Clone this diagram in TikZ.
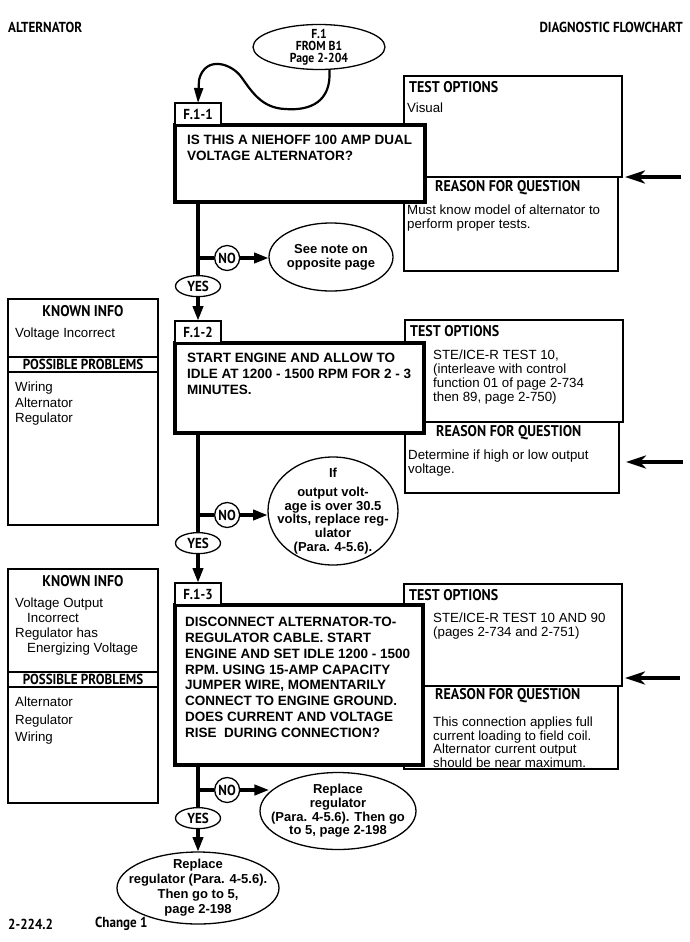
\documentclass[tikz,border=0pt]{standalone}
\usepackage{fontspec}
\setmainfont{Liberation Sans}
\newfontfamily\hdfont[FakeStretch=0.9]{PT Sans}
\usetikzlibrary{arrows.meta,positioning,shapes.geometric}
\tikzset{
  qbox/.style={draw, line width=4pt, fill=white, inner sep=0pt, outer sep=0pt, anchor=north west},
  optbox/.style={draw, line width=2.4pt, fill=white, inner sep=0pt, outer sep=0pt, anchor=north west},
  rsnbox/.style={draw, line width=1.3pt, fill=white, inner sep=0pt, outer sep=0pt, anchor=north west},
  infobox/.style={draw, line width=1.3pt, inner sep=0pt, outer sep=0pt, anchor=north west,
                  minimum width=150pt},
  band/.style={draw, line width=1.3pt, minimum width=150pt, minimum height=15pt, inner sep=0pt,
               outer sep=0pt, font=\hdfont\bfseries\fontsize{14.5}{14}\selectfont},
  tab/.style={draw, line width=1.3pt, fill=white, minimum width=46pt, minimum height=22pt,
              inner sep=0pt, outer sep=0pt, font=\hdfont\bfseries\fontsize{14.5}{14}\selectfont},
  hd/.style={inner sep=0pt, font=\hdfont\bfseries\fontsize{15.5}{15}\selectfont},
  ttlfont/.style={inner sep=0pt, font=\hdfont\bfseries\fontsize{14.5}{14}\selectfont},
  body/.style={anchor=north west, align=left, inner sep=0pt, font=\fontsize{13.3}{14}\selectfont},
  qtext/.style={anchor=north west, align=left, inner sep=0pt,
                font=\bfseries\fontsize{13.5}{15.8}\selectfont},
  oval/.style={ellipse, draw, line width=1.3pt, fill=white, inner sep=0pt, outer sep=0pt},
  otext/.style={align=center, inner sep=0pt, font=\bfseries\fontsize{13}{13.7}\selectfont},
  stext/.style={align=center, inner sep=0pt, font=\hdfont\bfseries\fontsize{13}{12}\selectfont},
  yesnode/.style={ellipse, draw, line width=1.3pt, fill=white, minimum width=45pt,
                  minimum height=21pt, inner sep=0pt, font=\hdfont\bfseries\fontsize{14.5}{14}\selectfont},
  nonode/.style={circle, draw, line width=1.3pt, fill=white, minimum size=25pt, inner sep=0pt,
                 font=\hdfont\bfseries\fontsize{14.5}{14}\selectfont},
  flow/.style={line width=4pt, -{Triangle[length=15pt,width=10pt]}},
  stem/.style={line width=4pt},
  loopline/.style={line width=2.2pt, -{Triangle[length=15pt,width=9pt]}},
  side/.style={line width=4.5pt, shorten >=3pt, -{Stealth[length=20pt,width=13pt,inset=6pt]}},
}
\begin{document}
\begin{tikzpicture}[x=1pt, y=-1pt]
  \useasboundingbox (0,0) rectangle (689,942);
  \node[ttlfont, anchor=west] (ttl) at (8,27) {ALTERNATOR};
  \node[ttlfont, anchor=east] (ttr) at (683,27) {DIAGNOSTIC FLOWCHART};
  \node[oval, minimum width=132pt, minimum height=45pt,
        label={[stext]center:{F.1\\FROM B1\\Page 2-204}}] (start) at (319,47) {};

  % F.1-1
  \node[rsnbox, minimum width=214pt, minimum height=94pt] (rsn1) at (404,177) {};
  \node[optbox, minimum width=218pt, minimum height=101pt] (opt1) at (404,76) {};
  \node[qbox, minimum width=250pt, minimum height=77pt] (q1) at (175,125) {};
  \node[tab, above right=0pt of q1.north west] (tab1) {F.1-1};
  \node[hd, anchor=west] (to1) at ([shift={(5,11)}]opt1.north west) {TEST OPTIONS};
  \node[body] (to1t) at ([shift={(3,27)}]opt1.north west) {Visual};
  \node[hd, anchor=west] (rq1) at ([shift={(31,11)}]rsn1.north west) {REASON FOR QUESTION};
  \node[body] (rq1t) at ([shift={(3,28)}]rsn1.north west) {Must know model of alternator to\\perform proper tests.};
  \node[qtext] (q1t) at ([shift={(12,10)}]q1.north west) {IS THIS A NIEHOFF 100 AMP DUAL\\VOLTAGE ALTERNATOR?};
  \coordinate (j1) at (198,258);
  \node[nonode, right=16pt of j1] (no1) {NO};
  \node[oval, minimum width=124pt, minimum height=68pt,
        label={[otext]center:{See note on\\opposite page}}] (note1) at (331,257) {};

  % F.1-2
  \node[infobox, minimum height=226pt] (info1) at (8,299) {};
  \node[hd, below=6pt of info1.north] (ki1) {KNOWN INFO};
  \node[body] (ki1t) at ([shift={(7,29)}]info1.north west) {Voltage Incorrect};
  \node[band] (pp1) at (83,364.5) {POSSIBLE PROBLEMS};
  \node[body, font=\fontsize{13.3}{15.5}\selectfont] (pp1t) at ([shift={(7,83)}]info1.north west) {Wiring\\Alternator\\Regulator};
  \node[rsnbox, minimum width=214pt, minimum height=71pt] (rsn2) at (405,422) {};
  \node[optbox, minimum width=218pt, minimum height=102pt] (opt2) at (405,320) {};
  \node[qbox, minimum width=249pt, minimum height=90pt] (q2) at (175,343) {};
  \node[tab, above right=0pt of q2.north west] (tab2) {F.1-2};
  \node[hd, anchor=west] (to2) at ([shift={(5,11)}]opt2.north west) {TEST OPTIONS};
  \node[body] (to2t) at ([shift={(28,30)}]opt2.north west) {STE/ICE-R TEST 10,\\(interleave with control\\function 01 of page 2-734\\then 89, page 2-750)};
  \node[hd, anchor=west] (rq2) at ([shift={(31,11)}]rsn2.north west) {REASON FOR QUESTION};
  \node[body] (rq2t) at ([shift={(3,28)}]rsn2.north west) {Determine if high or low output\\voltage.};
  \node[qtext] (q2t) at ([shift={(12,10)}]q2.north west) {START ENGINE AND ALLOW TO\\IDLE AT 1200 - 1500 RPM FOR 2 - 3\\MINUTES.};
  \coordinate (j2) at (198,515);
  \node[nonode, right=16pt of j2] (no2) {NO};
  \node[oval, minimum width=130pt, minimum height=108pt,
        label={[otext]center:{If\\[5pt]output volt-\\age is over 30.5\\volts, replace reg-\\ulator\\(Para. 4-5.6).}}] (note2) at (333,511) {};

  % F.1-3
  \node[infobox, minimum height=234pt] (info2) at (8,569) {};
  \node[hd, below=6pt of info2.north] (ki2) {KNOWN INFO};
  \node[body, font=\fontsize{13.3}{15}\selectfont] (ki2t) at ([shift={(7,29)}]info2.north west) {Voltage Output\\\hspace*{12pt}Incorrect\\Regulator has\\\hspace*{12pt}Energizing Voltage};
  \node[band] (pp2) at (83,679.5) {POSSIBLE PROBLEMS};
  \node[body, font=\fontsize{13.3}{17.5}\selectfont] (pp2t) at ([shift={(7,128)}]info2.north west) {Alternator\\Regulator\\Wiring};
  \node[rsnbox, minimum width=214pt, minimum height=83pt] (rsn3) at (404,686) {};
  \node[optbox, minimum width=218pt, minimum height=102pt] (opt3) at (404,584) {};
  \node[qbox, minimum width=248pt, minimum height=160pt] (q3) at (175,605) {};
  \node[tab, above right=0pt of q3.north west] (tab3) {F.1-3};
  \node[hd, anchor=west] (to3) at ([shift={(5,11)}]opt3.north west) {TEST OPTIONS};
  \node[body] (to3t) at ([shift={(29,29)}]opt3.north west) {STE/ICE-R TEST 10 AND 90\\(pages 2-734 and 2-751)};
  \node[hd, anchor=west] (rq3) at ([shift={(31,10)}]rsn3.north west) {REASON FOR QUESTION};
  \node[body, font=\fontsize{13.3}{13.5}\selectfont] (rq3t) at ([shift={(29,31)}]rsn3.north west) {This connection applies full\\current loading to field coil.\\Alternator current output\\should be near maximum.};
  \node[qtext] (q3t) at ([shift={(10,12)}]q3.north west) {DISCONNECT ALTERNATOR-TO-\\REGULATOR CABLE. START\\ENGINE AND SET IDLE 1200 - 1500\\RPM. USING 15-AMP CAPACITY\\JUMPER WIRE, MOMENTARILY\\CONNECT TO ENGINE GROUND.\\DOES CURRENT AND VOLTAGE\\RISE\ \ DURING CONNECTION?};
  \coordinate (j3) at (198,790);
  \node[nonode, right=16pt of j3] (no3) {NO};
  \node[oval, minimum width=156pt, minimum height=77pt,
        label={[otext]center:{Replace\\regulator\\(Para. 4-5.6). Then go\\to 5, page 2-198}}] (note3) at (338,811) {};
  \node[oval, minimum width=162pt, minimum height=72pt,
        label={[otext, font=\bfseries\fontsize{13}{15}\selectfont]center:{Replace\\regulator (Para. 4-5.6).\\Then go to 5,\\page 2-198}}] (fin) at (198,888) {};

  % connectors
  \draw[loopline] (start.-65) .. controls (332,102) and (310,111) .. (285,109)
    .. controls (262,108) and (252,92) .. (242,78)
    .. controls (232,63) and (205,55) .. (199,80) -- (tab1.north);
  \draw[flow] (q1.south -| j1) -- (j1 |- tab2.north);
  \draw[stem] (j1) -- (no1);
  \draw[flow] (no1) -- (no1 -| note1.west);
  \node[yesnode, below=17pt of j1] (yes1) {YES};
  \draw[flow] (q2.south -| j2) -- (j2 |- tab3.north);
  \draw[stem] (j2) -- (no2);
  \draw[flow] (no2) -- (no2 -| note2.west);
  \node[yesnode, below=17pt of j2] (yes2) {YES};
  \draw[flow] (q3.south -| j3) -- (j3 |- fin.north);
  \draw[stem] (j3) -- (no3);
  \draw[flow] (no3) -- (no3 -| note3.165);
  \node[yesnode, below=17pt of j3] (yes3) {YES};

  \coordinate (in1) at (681,177);
  \coordinate (in2) at (683,462);
  \coordinate (in3) at (680,678);
  \draw[side] (in1) -- (in1 -| opt1.east);
  \draw[side] (in2) -- (in2 -| opt2.east);
  \draw[side] (in3) -- (in3 -| opt3.east);

  \node[ttlfont, anchor=west] (pg) at (8,924) {2-224.2};
  \node[ttlfont, anchor=west] (chg) at (95,924) {Change 1};
\end{tikzpicture}
\end{document}
